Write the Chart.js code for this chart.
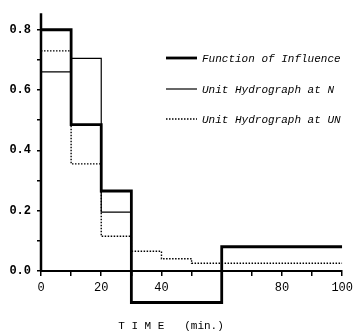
<!DOCTYPE html>
<html>
<head>
<meta charset="utf-8">
<script src="https://cdn.jsdelivr.net/npm/chart.js@4/dist/chart.umd.min.js"></script>
<style>
  html, body { margin: 0; padding: 0; background: #fff; }
  #wrap { width: 359px; height: 335px; }
</style>
</head>
<body>
<div id="wrap"><canvas id="c" width="359" height="335"></canvas></div>
<script>
// step breakpoints (min.) and the value held from each one to the next
const times = [0, 10, 20, 30, 40, 50, 60, 100];
const influence = [0.80, 0.485, 0.265, -0.105, -0.105, -0.105, 0.08, 0.08];
const hydroN = [0.66, 0.705, 0.195, 0, 0, 0, 0, 0];
const hydroUN = [0.73, 0.355, 0.115, 0.065, 0.04, 0.025, 0.025, 0.025];
const seriesNames = ["Function of Influence", "Unit Hydrograph at N", "Unit Hydrograph at UN"];
const xLabels = ["0", "20", "40", "80", "100"];
const yLabels = ["0.0", "0.2", "0.4", "0.6", "0.8"];
const axisTitle = "T I M E   (min.)";

const MONO = "'Liberation Mono', 'DejaVu Sans Mono', monospace";

function pts(vals) {
  return times.map((t, i) => ({ x: t, y: vals[i] }));
}

// legend drawn inside the plot, like the original figure
const insideLegend = {
  id: "insideLegend",
  afterDraw(chart) {
    const ctx = chart.ctx;
    const rows = [58, 89, 119];
    ctx.save();
    chart.data.datasets.forEach((ds, i) => {
      const y = rows[i];
      ctx.strokeStyle = "#000";
      ctx.lineWidth = ds.borderWidth;
      ctx.setLineDash(ds.borderDash || []);
      ctx.beginPath();
      ctx.moveTo(166, y);
      ctx.lineTo(197, y);
      ctx.stroke();
      ctx.setLineDash([]);
      ctx.fillStyle = "#000";
      ctx.font = "italic 11px " + MONO;
      ctx.textBaseline = "middle";
      ctx.textAlign = "left";
      ctx.fillText(ds.label, 202, y + 1);
    });
    // y axis line only from 0 upwards
    const ys = chart.scales.y;
    const left = chart.chartArea.left;
    ctx.lineWidth = 2.5;
    ctx.beginPath();
    ctx.moveTo(left, ys.getPixelForValue(0));
    ctx.lineTo(left, chart.chartArea.top);
    ctx.stroke();
    // axis title
    ctx.font = "11px " + MONO;
    ctx.textAlign = "center";
    ctx.textBaseline = "middle";
    ctx.fillText(axisTitle, 171, 326);
    ctx.restore();
  }
};

new Chart(document.getElementById("c").getContext("2d"), {
  type: "line",
  data: {
    datasets: [
      { label: seriesNames[0], data: pts(influence), borderColor: "#000", borderWidth: 2.8, stepped: true, pointRadius: 0, fill: false },
      { label: seriesNames[1], data: pts(hydroN), borderColor: "#000", borderWidth: 1.2, stepped: true, pointRadius: 0, fill: false },
      { label: seriesNames[2], data: pts(hydroUN), borderColor: "#000", borderWidth: 1.4, borderDash: [1.5, 1.5], stepped: true, pointRadius: 0, fill: false },
    ],
  },
  options: {
    responsive: false,
    animation: false,
    layout: { padding: { left: 0, right: 8, top: 5, bottom: 28 } },
    plugins: { legend: { display: false }, tooltip: { enabled: false } },
    scales: {
      x: {
        type: "linear",
        position: { y: 0 },
        min: 0,
        max: 100,
        grid: { drawOnChartArea: false, drawTicks: true, tickLength: 4, color: "#000", lineWidth: 1.5 },
        border: { display: true, color: "#000", width: 2 },
        afterBuildTicks: (s) => { s.ticks = [0,10,20,30,40,50,60,70,80,90,100].map((v) => ({ value: v })); },
        ticks: {
          autoSkip: false,
          maxRotation: 0,
          padding: 6,
          color: "#000",
          font: { family: MONO, size: 12 },
          callback: (v) => (xLabels.includes(String(v)) ? String(v) : ""),
        },
      },
      y: {
        type: "linear",
        min: -0.12,
        max: 0.855,
        afterFit: (s) => { s.width = 41; },
        afterBuildTicks: (s) => { s.ticks = [0,1,2,3,4,5,6,7,8].map((k) => ({ value: k / 10 })); },
        grid: { drawOnChartArea: false, drawTicks: true, tickLength: 4, color: "#000", lineWidth: 1.5 },
        border: { display: false },
        ticks: {
          autoSkip: false,
          padding: 6,
          color: "#000",
          font: { family: MONO, size: 12, weight: "bold" },
          callback: (v) => {
            const s = (Math.round(v * 10) / 10).toFixed(1);
            return yLabels.includes(s) ? s : "";
          },
        },
      },
    },
  },
  plugins: [insideLegend],
});
</script>
</body>
</html>
